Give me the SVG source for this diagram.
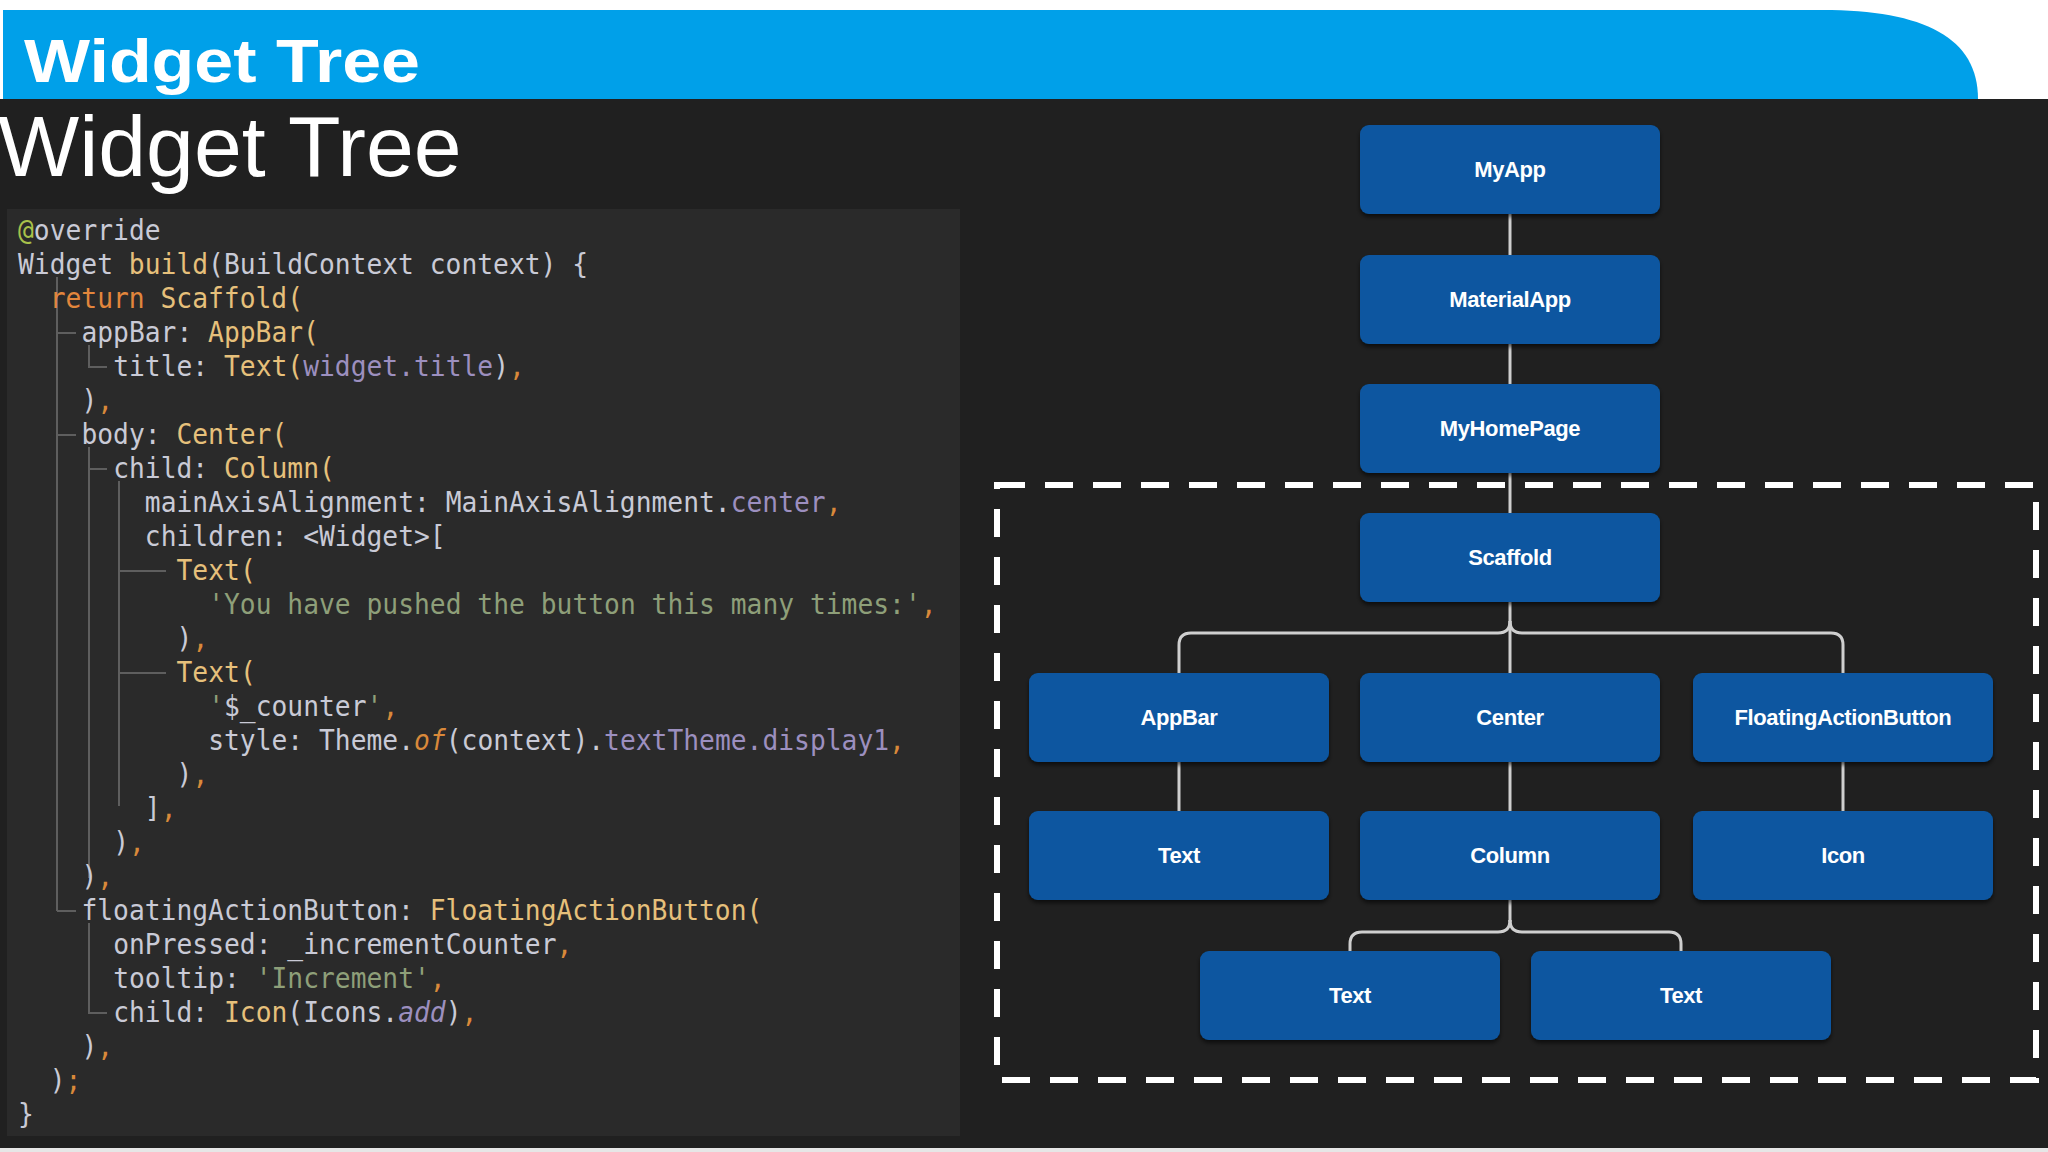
<svg xmlns="http://www.w3.org/2000/svg" width="2048" height="1152" viewBox="0 0 2048 1152">
<defs>
<style>
.node rect{fill:#0b56a0;}
.node text{font-family:"Liberation Sans",Arial,sans-serif;font-weight:bold;font-size:22px;letter-spacing:-0.4px;fill:#ffffff;text-anchor:middle;}
.conn{fill:none;stroke:#cfcfcf;stroke-width:3;}
.code text{font-family:"DejaVu Sans Mono","Liberation Mono",monospace;font-size:28.6px;white-space:pre;fill:#c9cad6;}
.d{fill:#c9cad6;}
.y{fill:#e6c07b;}
.o{fill:#e2863c;}
.p{fill:#d9893a;}
.v{fill:#9c8fbf;}
.s{fill:#8e9f79;}
.g{fill:#a8c14b;}
.it{font-style:italic;}
.guide{stroke:#5e5e5e;stroke-width:2;fill:none;}
</style>
<filter id="sh" x="-10%" y="-10%" width="120%" height="130%">
<feDropShadow dx="0" dy="3" stdDeviation="2" flood-color="#000000" flood-opacity="0.6"/>
</filter>
</defs>

<!-- background -->
<rect x="0" y="0" width="2048" height="1152" fill="#202020"/>
<rect x="0" y="0" width="2048" height="99" fill="#ffffff"/>
<path d="M3,10 H1822 C1925,10 1978,38 1978,99 H3 Z" fill="#00a0e9"/>
<rect x="0" y="1148" width="2048" height="4" fill="#e6e6e6"/>

<text x="24" y="82" font-family="Liberation Sans,Arial,sans-serif" font-weight="bold" font-size="62" fill="#ffffff" textLength="396" lengthAdjust="spacingAndGlyphs">Widget Tree</text>
<text x="-2" y="176" font-family="Liberation Sans,Arial,sans-serif" font-size="86" fill="#ffffff">Widget Tree</text>

<!-- code panel -->
<rect x="7" y="209" width="953" height="927" fill="#2a2a2a"/>
<g id="code-guides">
<path class="guide" d="M57,277 V911 M57,333 H76 M57,435 H76 M57,911 H76"/>
<path class="guide" d="M89,345 V367 H107"/>
<path class="guide" d="M89,447 V878 M89,469 H107"/>
<path class="guide" d="M119,481 V806 M119,571 H166 M119,673 H166"/>
<path class="guide" d="M89,923 V1013 H107"/>
</g>
<g class="code" transform="scale(0.92 1)">
<text x="19.6" y="240"><tspan class="g">@</tspan><tspan class="d">override</tspan></text>
<text x="19.6" y="274"><tspan class="d">Widget </tspan><tspan class="y">build</tspan><tspan class="d">(BuildContext context) {</tspan></text>
<text x="54.0" y="308"><tspan class="o">return </tspan><tspan class="y">Scaffold(</tspan></text>
<text x="88.5" y="342"><tspan class="d">appBar: </tspan><tspan class="y">AppBar(</tspan></text>
<text x="123.0" y="376"><tspan class="d">title: </tspan><tspan class="y">Text(</tspan><tspan class="v">widget.title</tspan><tspan class="d">)</tspan><tspan class="p">,</tspan></text>
<text x="88.5" y="410"><tspan class="d">)</tspan><tspan class="p">,</tspan></text>
<text x="88.5" y="444"><tspan class="d">body: </tspan><tspan class="y">Center(</tspan></text>
<text x="123.0" y="478"><tspan class="d">child: </tspan><tspan class="y">Column(</tspan></text>
<text x="157.4" y="512"><tspan class="d">mainAxisAlignment: MainAxisAlignment.</tspan><tspan class="v">center</tspan><tspan class="p">,</tspan></text>
<text x="157.4" y="546"><tspan class="d">children: &lt;Widget&gt;[</tspan></text>
<text x="191.9" y="580"><tspan class="y">Text(</tspan></text>
<text x="226.3" y="614"><tspan class="s">'You have pushed the button this many times:'</tspan><tspan class="p">,</tspan></text>
<text x="191.9" y="648"><tspan class="d">)</tspan><tspan class="p">,</tspan></text>
<text x="191.9" y="682"><tspan class="y">Text(</tspan></text>
<text x="226.3" y="716"><tspan class="s">'</tspan><tspan class="d">$_counter</tspan><tspan class="s">'</tspan><tspan class="p">,</tspan></text>
<text x="226.3" y="750"><tspan class="d">style: Theme.</tspan><tspan class="p it">of</tspan><tspan class="d">(context).</tspan><tspan class="v">textTheme.display1</tspan><tspan class="p">,</tspan></text>
<text x="191.9" y="784"><tspan class="d">)</tspan><tspan class="p">,</tspan></text>
<text x="157.4" y="818"><tspan class="d">]</tspan><tspan class="p">,</tspan></text>
<text x="123.0" y="852"><tspan class="d">)</tspan><tspan class="p">,</tspan></text>
<text x="88.5" y="886"><tspan class="d">)</tspan><tspan class="p">,</tspan></text>
<text x="88.5" y="920"><tspan class="d">floatingActionButton: </tspan><tspan class="y">FloatingActionButton(</tspan></text>
<text x="123.0" y="954"><tspan class="d">onPressed: _incrementCounter</tspan><tspan class="p">,</tspan></text>
<text x="123.0" y="988"><tspan class="d">tooltip: </tspan><tspan class="s">'Increment'</tspan><tspan class="p">,</tspan></text>
<text x="123.0" y="1022"><tspan class="d">child: </tspan><tspan class="y">Icon</tspan><tspan class="d">(Icons.</tspan><tspan class="v it">add</tspan><tspan class="d">)</tspan><tspan class="p">,</tspan></text>
<text x="88.5" y="1056"><tspan class="d">)</tspan><tspan class="p">,</tspan></text>
<text x="54.0" y="1090"><tspan class="d">)</tspan><tspan class="p">;</tspan></text>
<text x="19.6" y="1124"><tspan class="d">}</tspan></text>
</g>

<!-- dashed scope -->
<rect x="997" y="485" width="1039" height="595" fill="none" stroke="#ffffff" stroke-width="6" stroke-dasharray="28 20"/>

<!-- connectors -->
<g id="connectors">
<path class="conn" d="M1510,214 V255"/>
<path class="conn" d="M1510,344 V384"/>
<path class="conn" d="M1510,473 V513"/>
<path class="conn" d="M1510,602 V673"/>
<path class="conn" d="M1179,673 V645 Q1179,633 1191,633 H1498 Q1510,633 1510,621"/>
<path class="conn" d="M1510,621 Q1510,633 1522,633 H1831 Q1843,633 1843,645 V673"/>
<path class="conn" d="M1179,762 V811"/>
<path class="conn" d="M1510,762 V811"/>
<path class="conn" d="M1843,762 V811"/>
<path class="conn" d="M1510,900 V922"/>
<path class="conn" d="M1350,951 V944 Q1350,932 1362,932 H1498 Q1510,932 1510,920"/>
<path class="conn" d="M1510,920 Q1510,932 1522,932 H1669 Q1681,932 1681,944 V951"/>
</g>

<!-- nodes -->
<g id="n-myapp" class="node"><rect x="1360" y="125" width="300" height="89" rx="9" filter="url(#sh)"/><text x="1510" y="177">MyApp</text></g>
<g id="n-materialapp" class="node"><rect x="1360" y="255" width="300" height="89" rx="9" filter="url(#sh)"/><text x="1510" y="307">MaterialApp</text></g>
<g id="n-myhomepage" class="node"><rect x="1360" y="384" width="300" height="89" rx="9" filter="url(#sh)"/><text x="1510" y="436">MyHomePage</text></g>
<g id="n-scaffold" class="node"><rect x="1360" y="513" width="300" height="89" rx="9" filter="url(#sh)"/><text x="1510" y="565">Scaffold</text></g>
<g id="n-appbar" class="node"><rect x="1029" y="673" width="300" height="89" rx="9" filter="url(#sh)"/><text x="1179" y="725">AppBar</text></g>
<g id="n-center" class="node"><rect x="1360" y="673" width="300" height="89" rx="9" filter="url(#sh)"/><text x="1510" y="725">Center</text></g>
<g id="n-fab" class="node"><rect x="1693" y="673" width="300" height="89" rx="9" filter="url(#sh)"/><text x="1843" y="725">FloatingActionButton</text></g>
<g id="n-text1" class="node"><rect x="1029" y="811" width="300" height="89" rx="9" filter="url(#sh)"/><text x="1179" y="863">Text</text></g>
<g id="n-column" class="node"><rect x="1360" y="811" width="300" height="89" rx="9" filter="url(#sh)"/><text x="1510" y="863">Column</text></g>
<g id="n-icon" class="node"><rect x="1693" y="811" width="300" height="89" rx="9" filter="url(#sh)"/><text x="1843" y="863">Icon</text></g>
<g id="n-text2" class="node"><rect x="1200" y="951" width="300" height="89" rx="9" filter="url(#sh)"/><text x="1350" y="1003">Text</text></g>
<g id="n-text3" class="node"><rect x="1531" y="951" width="300" height="89" rx="9" filter="url(#sh)"/><text x="1681" y="1003">Text</text></g>
</svg>
